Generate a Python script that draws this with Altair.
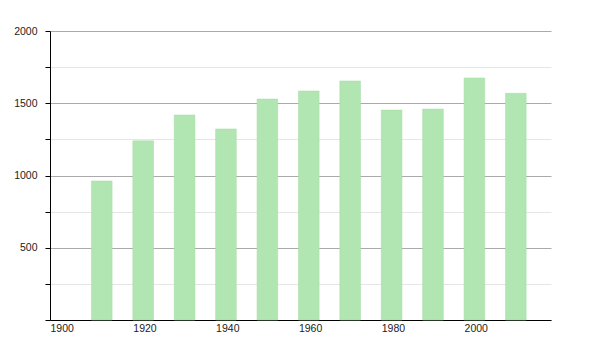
import altair as alt
import pandas as pd

years = [1910, 1920, 1930, 1940, 1950, 1960, 1970, 1980, 1990, 2000, 2010]
values = [962, 1240, 1419, 1322, 1529, 1585, 1654, 1453, 1460, 1675, 1569]

df = pd.DataFrame({"year": years, "value": values})

FONT = "Liberation Sans"

chart = (
    alt.Chart(df)
    .transform_calculate(year_end="datum.year + 5", base="0")
    .mark_bar(color="#b1e5b1", stroke="#a6dca6", strokeWidth=0.5)
    .encode(
        x=alt.X(
            "year:Q",
            scale=alt.Scale(domain=[1900, 2021], nice=False, zero=False),
            axis=alt.Axis(
                values=[1900, 1920, 1940, 1960, 1980, 2000],
                format="d",
                labelAlign="left",
                labelBaseline="top",
                ticks=False,
                labelPadding=3,
                grid=False,
                domainColor="#000000",
                labelColor="#222222",
                labelFont=FONT,
                labelFontSize=10.5,
                title=None,
            ),
        ),
        x2="year_end:Q",
        y=alt.Y(
            "value:Q",
            scale=alt.Scale(domain=[0, 2000], nice=False),
            axis=alt.Axis(
                values=[0, 250, 500, 750, 1000, 1250, 1500, 1750, 2000],
                labelExpr="datum.value % 500 === 0 && datum.value > 0 ? datum.label : ''",
                format="d",
                grid=True,
                gridColor={"expr": "datum.value % 500 === 0 ? '#aaaaaa' : '#e6e6e6'"},
                gridWidth=1,
                tickColor="#000000",
                tickSize=5,
                labelPadding=8,
                domainColor="#000000",
                labelColor="#222222",
                labelFont=FONT,
                labelFontSize=10.5,
                title=None,
            ),
        ),
        y2="base:Q",
    )
    .properties(
        width=501,
        height=289,
        padding={"left": 50, "top": 31, "right": 49, "bottom": 30},
        autosize=alt.AutoSizeParams(type="none"),
        background="#ffffff",
    )
    .configure_view(stroke=None)
)

chart.save("out.html", embed_options={"renderer": "svg", "actions": False})
